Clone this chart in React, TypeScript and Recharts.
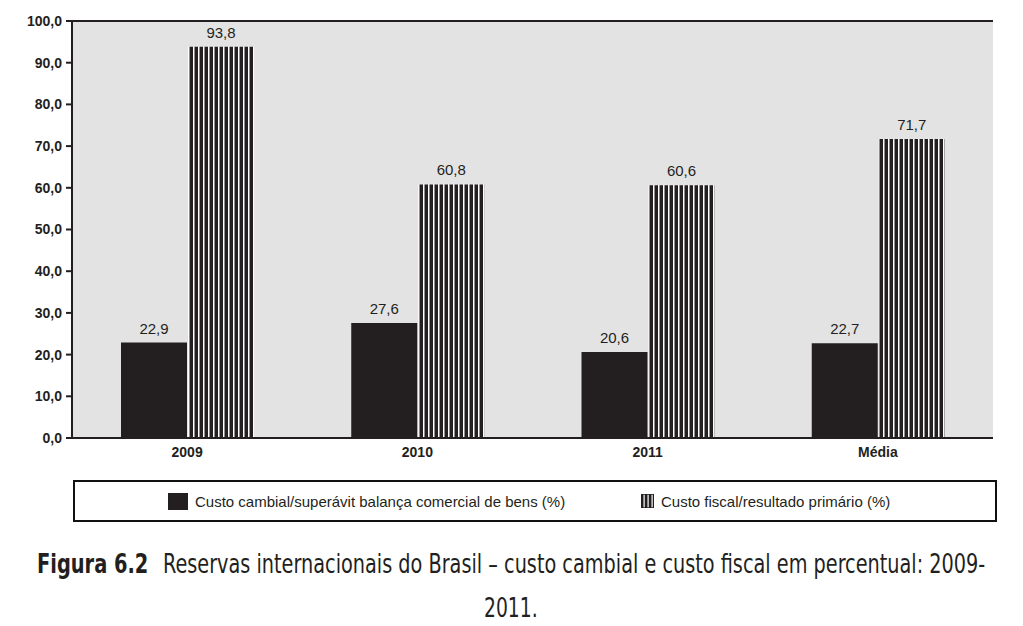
import React, { useLayoutEffect, useRef, useState } from 'react';
import {
  BarChart,
  Bar,
  XAxis,
  YAxis,
  CartesianGrid,
  ReferenceLine,
  LabelList,
} from 'recharts';

const categories = ['2009', '2010', '2011', 'Média'];
const custoCambial = [22.9, 27.6, 20.6, 22.7];
const custoFiscal = [93.8, 60.8, 60.6, 71.7];
const yTicks = [0, 10, 20, 30, 40, 50, 60, 70, 80, 90, 100];
const edgeTicks = [0, 1, 2, 3, 4];
const seriesNames = [
  'Custo cambial/superávit balança comercial de bens (%)',
  'Custo fiscal/resultado primário (%)',
];
const captionBold = 'Figura 6.2';
const captionLine1 =
  'Reservas internacionais do Brasil – custo cambial e custo fiscal em percentual: 2009-';
const captionLine2 = '2011.';

const INK = '#231f20';
const PLOT_BG = '#e3e3e3';
const FONT = "'Liberation Sans', Arial, Helvetica, sans-serif";
const CAPTION_FONT = "'Liberation Sans Narrow', 'DejaVu Sans Condensed', 'Liberation Sans', sans-serif";

// 93.8 -> "93,8"
const fmt = (v: number) => v.toFixed(1).replace('.', ',');

const chartData = categories.map((c, i) => ({
  name: c,
  cambial: custoCambial[i],
  fiscal: custoFiscal[i],
}));

function StripeDefs() {
  return (
    <svg width={0} height={0} style={{ position: 'absolute' }}>
      <defs>
        <pattern id="stripes" width={5} height={10} patternUnits="userSpaceOnUse">
          <rect width={5} height={10} fill={INK} />
          <rect x={3} width={1.5} height={10} fill="#ffffff" />
        </pattern>
        <pattern id="stripesSmall" width={4} height={10} patternUnits="userSpaceOnUse">
          <rect width={4} height={10} fill={INK} />
          <rect x={2.5} width={1.2} height={10} fill="#ffffff" />
        </pattern>
      </defs>
    </svg>
  );
}

// squeeze a caption run horizontally to the width it takes in the printed figure
function FitText({ text, left, top, width, bold, center }: {
  text: string; left: number; top: number; width: number; bold?: boolean; center?: boolean;
}) {
  const ref = useRef<HTMLSpanElement>(null);
  const [k, setK] = useState(1);
  useLayoutEffect(() => {
    if (ref.current) {
      const w = ref.current.offsetWidth;
      if (w > 0) setK(width / w);
    }
  }, [text, width]);
  return (
    <span
      ref={ref}
      style={{
        position: 'absolute',
        left: center ? left - width / 2 : left,
        top,
        display: 'inline-block',
        whiteSpace: 'nowrap',
        fontFamily: CAPTION_FONT,
        fontSize: 27,
        lineHeight: '27px',
        fontWeight: bold ? 700 : 400,
        color: INK,
        transform: `scaleX(${k})`,
        transformOrigin: 'left top',
      }}
    >
      {text}
    </span>
  );
}

function LegendBox() {
  const item = (left: number, marker: React.ReactNode, label: string) => (
    <div
      style={{
        position: 'absolute',
        left,
        top: 0,
        height: '100%',
        display: 'flex',
        alignItems: 'center',
        fontSize: 15,
        color: INK,
        whiteSpace: 'nowrap',
      }}
    >
      {marker}
      <span style={{ marginLeft: 7 }}>{label}</span>
    </div>
  );
  return (
    <div
      style={{
        position: 'absolute',
        left: 73,
        top: 480,
        width: 924,
        height: 42,
        border: '2px solid #111',
        boxSizing: 'border-box',
      }}
    >
      {item(93, <div style={{ width: 20, height: 17, background: INK }} />, seriesNames[0])}
      {item(
        566,
        <svg width={13} height={14}>
          <rect x={0} y={0} width={13} height={14} fill="url(#stripesSmall)" stroke={INK} strokeWidth={1.5} />
        </svg>,
        seriesNames[1]
      )}
    </div>
  );
}

export default function App() {
  return (
    <div
      style={{
        position: 'absolute',
        left: 0,
        top: 0,
        width: 1023,
        height: 626,
        background: '#ffffff',
        fontFamily: FONT,
        overflow: 'hidden',
      }}
    >
      <StripeDefs />
      <BarChart
        width={1023}
        height={470}
        data={chartData}
        margin={{ top: 21, right: 30, left: 12, bottom: 2 }}
        barSize={66}
        barGap={1}
      >
        <CartesianGrid fill={PLOT_BG} horizontal={false} vertical={false} stroke="none" />
        <XAxis
          xAxisId="edges"
          type="number"
          domain={[0, 4]}
          ticks={edgeTicks}
          height={0}
          axisLine={false}
          tick={false}
          tickSize={6}
          tickLine={{ stroke: INK, strokeWidth: 2 }}
        />
        <XAxis
          dataKey="name"
          height={30}
          axisLine={{ stroke: INK, strokeWidth: 2 }}
          tickLine={false}
          tickSize={6}
          tickMargin={3}
          interval={0}
          tick={{ fill: INK, fontSize: 14, fontWeight: 700 }}
        />
        <YAxis
          width={60}
          domain={[0, 100]}
          ticks={yTicks}
          interval={0}
          tickFormatter={fmt}
          axisLine={{ stroke: INK, strokeWidth: 2 }}
          tickLine={{ stroke: INK, strokeWidth: 2 }}
          tickSize={6}
          tickMargin={4}
          tick={{ fill: INK, fontSize: 14, fontWeight: 700 }}
        />
        <YAxis
          yAxisId="right"
          orientation="right"
          width={0}
          domain={[0, 100]}
          tick={false}
          tickLine={false}
          axisLine={{ stroke: INK, strokeWidth: 2 }}
        />
        <ReferenceLine y={100} stroke={INK} strokeWidth={2} />
        <Bar dataKey="cambial" name={seriesNames[0]} fill={INK} isAnimationActive={false}>
          <LabelList dataKey="cambial" position="top" offset={9} formatter={(v: any) => fmt(Number(v))} fill={INK} fontSize={15} />
        </Bar>
        <Bar dataKey="fiscal" name={seriesNames[1]} fill="url(#stripes)" isAnimationActive={false}>
          <LabelList dataKey="fiscal" position="top" offset={9} formatter={(v: any) => fmt(Number(v))} fill={INK} fontSize={15} />
        </Bar>
      </BarChart>
      <LegendBox />
      <FitText text={captionBold} left={37} top={550} width={111} bold />
      <FitText text={captionLine1} left={163} top={550} width={822} />
      <FitText text={captionLine2} left={511} top={594} width={54} center />
    </div>
  );
}
